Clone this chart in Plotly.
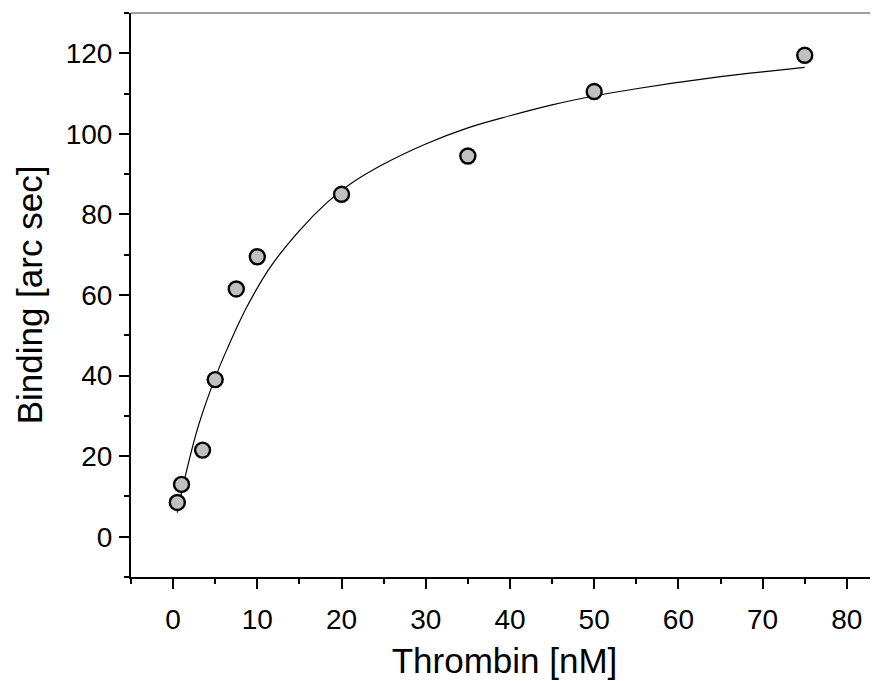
import plotly.graph_objects as go

# Measured data points
thrombin_nM = [0.5, 1, 3.5, 5, 7.5, 10, 20, 35, 50, 75]
binding_arcsec = [8.5, 13, 21.5, 39, 61.5, 69.5, 85, 94.5, 110.5, 119.5]

# Fitted curve
fit_x = [0.5, 1.5, 3, 5, 6.5, 8.75, 11.5, 15, 18.3, 21, 25, 30, 35, 40, 45, 50, 55, 60, 65, 70, 75]
fit_y = [6, 15.5, 27.5, 39.5, 47, 57, 66.8, 76, 83, 87.5, 92.5, 97.5, 101.5, 104.5,
         107.2, 109.4, 111.2, 112.8, 114.2, 115.4, 116.5]

x_ticks = [0, 10, 20, 30, 40, 50, 60, 70, 80]
y_ticks = [0, 20, 40, 60, 80, 100, 120]

FONT = "Liberation Sans, Arial, sans-serif"

fig = go.Figure()
fig.add_trace(go.Scatter(x=fit_x, y=fit_y, mode="lines", line=dict(color="black", width=1.2, shape="spline"),
                         hoverinfo="skip", showlegend=False))
fig.add_trace(go.Scatter(x=thrombin_nM, y=binding_arcsec, mode="markers",
                         marker=dict(size=15, color="#c0c0c0", line=dict(color="black", width=2.4)),
                         showlegend=False))

fig.add_shape(type="line", xref="paper", yref="paper", x0=0, x1=1, y0=1, y1=1,
              line=dict(color="#808080", width=1.5))

# page body adds an 8px offset; figure sized so the plot sits where the reference has it
fig.update_layout(
    width=870, height=673,
    margin=dict(l=123, r=0, t=5, b=104),
    paper_bgcolor="white", plot_bgcolor="white",
    font=dict(family=FONT, color="black"),
    xaxis=dict(range=[-5, 83.7], tickvals=x_ticks, showgrid=False, zeroline=False,
               showline=True, linecolor="black", linewidth=2,
               ticks="outside", ticklen=10, tickwidth=2, tickcolor="black",
               minor=dict(dtick=5, ticks="outside", ticklen=5, tickwidth=2, tickcolor="black", showgrid=False),
               tickfont=dict(size=28, family=FONT), ticklabelstandoff=6,
               title=dict(text="Thrombin [nM]", font=dict(size=35, family=FONT), standoff=15),
               automargin=False),
    yaxis=dict(range=[-10, 130], tickvals=y_ticks, showgrid=False, zeroline=False,
               showline=True, linecolor="black", linewidth=2,
               ticks="outside", ticklen=10, tickwidth=2, tickcolor="black",
               minor=dict(dtick=10, ticks="outside", ticklen=5, tickwidth=2, tickcolor="black", showgrid=False),
               tickfont=dict(size=28, family=FONT), ticklabelstandoff=1,
               title=dict(text="Binding [arc sec]", font=dict(size=35, family=FONT), standoff=12),
               automargin=False),
)

fig.write_html("out.html")
